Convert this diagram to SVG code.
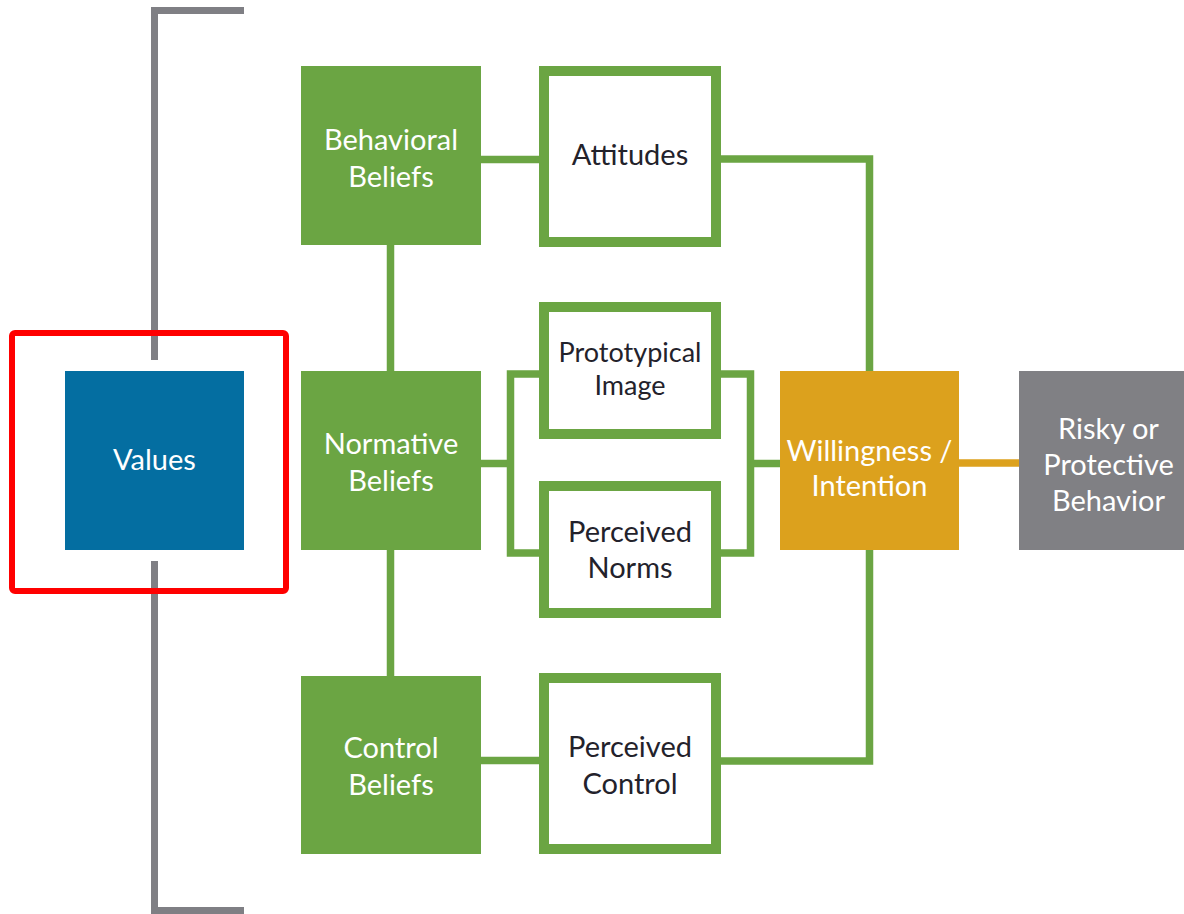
<svg xmlns="http://www.w3.org/2000/svg" width="1184" height="914" viewBox="0 0 1184 914">
<style>
.lbl{font-family:Lato,"Open Sans","Liberation Sans",sans-serif;font-size:29px;text-anchor:middle}
.sm{font-size:27px}
.w{fill:#ffffff}
.d{fill:#23222b}
.g{fill:#6ba543}
.ob{fill:#ffffff;stroke:#6ba543;stroke-width:10}
.ln{fill:none;stroke:#6ba543;stroke-width:7.5}
.br{fill:none;stroke:#7f7f84;stroke-width:7}
</style>
<rect width="1184" height="914" fill="#ffffff"/>
<g id="bracket">
<path class="br" d="M244 10.5 H154.5 V360"/>
<path class="br" d="M154.5 561 V910.5 H244"/>
</g>
<g id="connectors">
<path class="ln" d="M481 159.5 H539"/>
<path class="ln" d="M721 159 H869.5 V371"/>
<path class="ln" d="M390.5 245 V371"/>
<path class="ln" d="M390.5 550 V676"/>
<path class="ln" d="M481 463.5 H510.5"/>
<path class="ln" d="M539 374 H510.5 V553 H539"/>
<path class="ln" d="M721 374 H750.5 V553 H721"/>
<path class="ln" d="M750.5 463.5 H780"/>
<path class="ln" d="M481 760.5 H539"/>
<path class="ln" d="M721 761 H869.5 V550"/>
<path fill="none" stroke="#dca11d" stroke-width="7.5" d="M959 463 H1019"/>
</g>
<g id="values">
<rect x="65" y="371" width="179" height="179" fill="#046ea1"/>
<text class="lbl w" x="154.5" y="470">Values</text>
</g>
<g id="highlight">
<rect x="12" y="333" width="274" height="258" rx="3" fill="none" stroke="#ff0000" stroke-width="6"/>
</g>
<g id="behavioral-beliefs">
<rect class="g" x="301" y="66" width="180" height="179"/>
<text class="lbl w" x="391" y="150">Behavioral</text>
<text class="lbl w" x="391" y="187">Beliefs</text>
</g>
<g id="normative-beliefs">
<rect class="g" x="301" y="371" width="180" height="179"/>
<text class="lbl w" x="391" y="454">Normative</text>
<text class="lbl w" x="391" y="491">Beliefs</text>
</g>
<g id="control-beliefs">
<rect class="g" x="301" y="676" width="180" height="178"/>
<text class="lbl w" x="391" y="758">Control</text>
<text class="lbl w" x="391" y="795">Beliefs</text>
</g>
<g id="attitudes">
<rect class="ob" x="544" y="71" width="172" height="171"/>
<text class="lbl d" x="630" y="165">Attitudes</text>
</g>
<g id="prototypical-image">
<rect class="ob" x="544" y="307" width="172" height="127"/>
<text class="lbl d sm" x="630" y="362">Prototypical</text>
<text class="lbl d sm" x="630" y="395">Image</text>
</g>
<g id="perceived-norms">
<rect class="ob" x="544" y="486" width="172" height="127"/>
<text class="lbl d" x="630" y="542">Perceived</text>
<text class="lbl d" x="630" y="578">Norms</text>
</g>
<g id="perceived-control">
<rect class="ob" x="544" y="678" width="172" height="171"/>
<text class="lbl d" x="630" y="757">Perceived</text>
<text class="lbl d" x="630" y="794">Control</text>
</g>
<g id="willingness-intention">
<rect x="780" y="371" width="179" height="179" fill="#dca11d"/>
<text class="lbl w" x="869.5" y="461">Willingness /</text>
<text class="lbl w" x="869.5" y="496">Intention</text>
</g>
<g id="behavior">
<rect x="1019" y="371" width="179" height="179" fill="#808084"/>
<text class="lbl w" x="1108.5" y="439">Risky or</text>
<text class="lbl w" x="1108.5" y="475">Protective</text>
<text class="lbl w" x="1108.5" y="511">Behavior</text>
</g>
</svg>
